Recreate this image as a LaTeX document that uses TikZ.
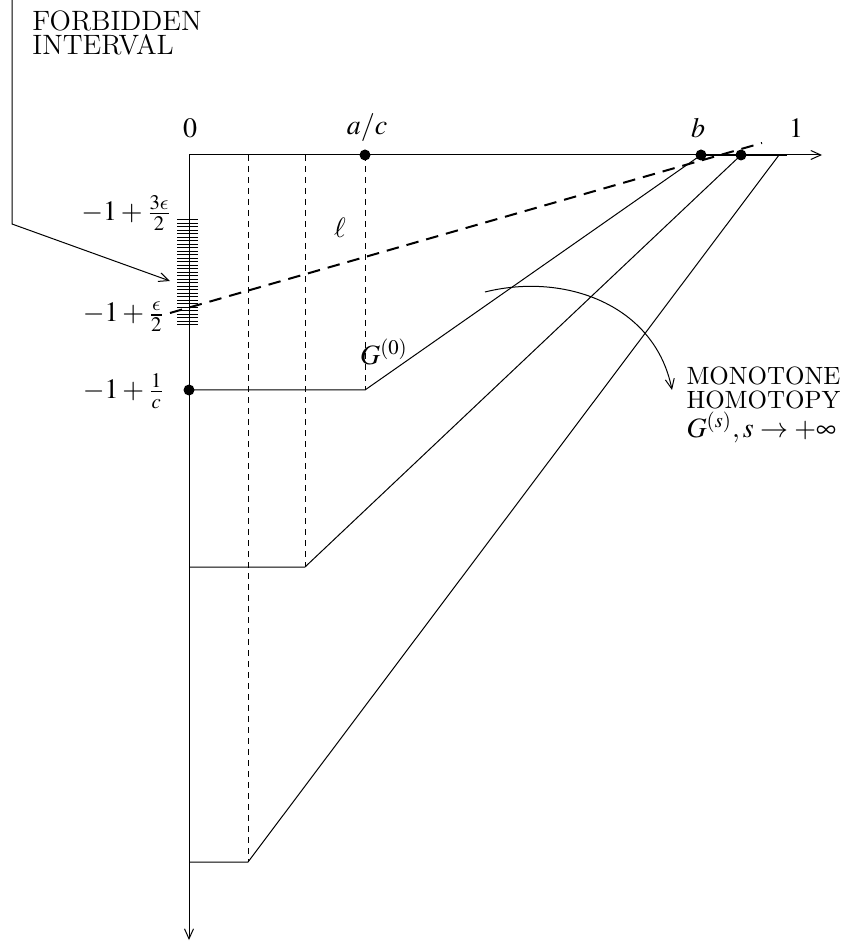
\documentclass[tikz,border=0pt]{standalone}
\usepackage{mathptmx}
\usetikzlibrary{arrows.meta}
\DeclareSymbolFont{cmlet}{OML}{cmm}{m}{it}
\DeclareMathSymbol{\lunateps}{\mathord}{cmlet}{"0F}
\begin{document}
\begin{tikzpicture}[x=0.4pt,y=-0.4pt, line width=0.4pt,
  barb/.style={-{Straight Barb[length=4pt,width=3.6pt]}},
  vdash/.style={dash pattern=on 2.4pt off 2pt, line width=0.4pt},
  ldash/.style={dash pattern=on 5pt off 3.2pt, line width=0.8pt},
  dot/.style={circle,fill,inner sep=0pt,minimum size=4.4pt},
  lbl/.style={inner sep=0pt, font=\fontsize{11.2}{13}\selectfont},
  txt/.style={font=\fontsize{11.2}{9.7}\fontfamily{cmr}\selectfont, inner sep=0pt, anchor=west, align=left},
  txtb/.style={font=\fontsize{10}{9.4}\fontfamily{cmr}\selectfont, inner sep=0pt, anchor=west, align=left}]
\useasboundingbox (0,0) rectangle (840,944);
% key points
\coordinate (O) at (189,155);
\coordinate (xend) at (822,155);
\coordinate (yend) at (189,940);
\coordinate (ac) at (365,155);
\coordinate (bb) at (701,155);
\coordinate (b2) at (741,155);
\coordinate (e3) at (779,155);
\coordinate (thickend) at (787,155);
\coordinate (c1) at (189,390);
\coordinate (k1) at (365,390);
\coordinate (h2) at (189,567);
\coordinate (k2) at (305,567);
\coordinate (h3) at (189,862);
\coordinate (k3) at (248,862);
\coordinate (t2) at (305,155);
\coordinate (t3) at (248,155);
\coordinate (l1) at (170,313);
\coordinate (l2) at (762,143);
\coordinate (lead0) at (12,0);
\coordinate (lead1) at (12,224);
\coordinate (leadtip) at (170,281);
\coordinate (arcs) at (485,292);
\coordinate (arce) at (672,390);
% dashed verticals
\draw[vdash] (t3) -- (k3);
\draw[vdash] (t2) -- (k2);
\draw[vdash] (ac) -- (k1);
% hatch of forbidden interval
\foreach \i in {0,...,30} \draw (177,220+3.5*\i) -- (198,220+3.5*\i);
% graphs
\draw (c1) -- (k1) -- (bb);
\draw (h2) -- (k2) -- (b2);
\draw (h3) -- (k3) -- (e3);
% line ell
\draw[ldash] (l1) -- (l2);
% axes
\draw[barb] (O) -- (xend);
\draw[barb] (O) -- (yend);
\draw[line width=1pt] (bb) -- (thickend);
% dots
\node[dot] (dac) at (ac) {};
\node[dot] (db) at (bb) {};
\node[dot] (db2) at (b2) {};
\node[dot] (dc1) at (c1) {};
% leader and homotopy arrow
\draw[barb] (lead0) -- (lead1) -- (leadtip);
\draw[barb] (arcs) .. controls (565,272) and (655,305) .. (arce);
% labels
\node[lbl] (n0) at (190,128) {$0$};
\node[lbl] (nac) at (367,128) {$a/c$};
\node[lbl] (nb) at (698,128) {$b$};
\node[lbl] (n1) at (796,128) {$1$};
\node[lbl] (nell) at (340,228) {$\ell$};
\node[lbl] (nG0) at (384,352) {$G^{(0)}$};
\node[lbl,anchor=east] (f3) at (172,213) {$-1+\frac{3\lunateps}{2}$};
\node[lbl,anchor=east] (f1) at (165,317) {$-1+\frac{\lunateps}{2}$};
\node[lbl,anchor=east] (fc) at (165,391) {$-1+\frac{1}{c}$};
\node[txt] (forb) at (32,33) {FORBIDDEN\\INTERVAL};
\node[txtb] (mono) at (686,405) {MONOTONE\\HOMOTOPY\\{\fontsize{11.2}{9.4}\selectfont$G^{(s)}, s\rightarrow+\infty$}};
\end{tikzpicture}
\end{document}
